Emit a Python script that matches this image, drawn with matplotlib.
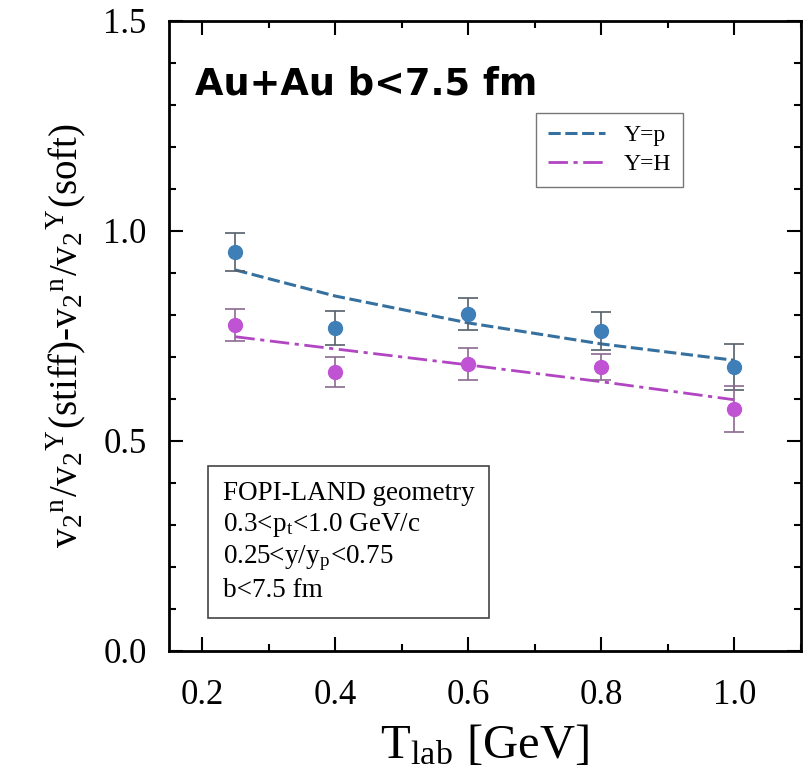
"""Elliptic-flow ratio difference (stiff minus soft) against beam energy."""

import matplotlib

matplotlib.use("Agg")
import matplotlib.pyplot as plt
from matplotlib.ticker import MultipleLocator

plt.rcParams["font.family"] = ["Liberation Serif", "DejaVu Serif"]
plt.rcParams["mathtext.fontset"] = "stix"

# data
t_lab = [0.25, 0.4, 0.6, 0.8, 1.0]

proton_vals = [0.950, 0.769, 0.802, 0.762, 0.676]
proton_errs = [0.045, 0.040, 0.038, 0.045, 0.055]
proton_fit = [0.907, 0.845, 0.781, 0.731, 0.692]

hydrogen_vals = [0.776, 0.664, 0.683, 0.676, 0.576]
hydrogen_errs = [0.038, 0.035, 0.039, 0.030, 0.055]
hydrogen_fit = [0.748, 0.719, 0.681, 0.641, 0.598]

series_labels = ["Y=p", "Y=H"]
info_lines = [
    "FOPI-LAND geometry",
    r"0.3<p$_\mathregular{t}$<1.0 GeV/c",
    r"0.25<y/y$_\mathregular{p}$<0.75",
    "b<7.5 fm",
]

BLUE = "#3f7fb8"
MAGENTA = "#c053d3"

fig = plt.figure(figsize=(8.08, 7.74), dpi=100)
ax = fig.add_axes([0.209, 0.159, 0.782, 0.814])

ax.plot(t_lab, proton_fit, ls=(0, (4, 1.5)), color="#35709f", lw=2.2, label=series_labels[0])
ax.plot(t_lab, hydrogen_fit, ls=(0, (7, 2, 1.5, 2)), color="#b145c2", lw=2.0, label=series_labels[1])

ax.errorbar(t_lab, proton_vals, yerr=proton_errs, fmt="o", ms=10, color=BLUE,
            ecolor="#555f6a", elinewidth=1.2, capsize=7, capthick=1.2, zorder=3)
ax.errorbar(t_lab, hydrogen_vals, yerr=hydrogen_errs, fmt="o", ms=10, color=MAGENTA,
            ecolor="#8a6a90", elinewidth=1.2, capsize=7, capthick=1.2, zorder=3)

ax.set_xlim(0.15, 1.1)
ax.set_ylim(0.0, 1.5)
ax.xaxis.set_major_locator(MultipleLocator(0.2))
ax.xaxis.set_minor_locator(MultipleLocator(0.1))
ax.yaxis.set_major_locator(MultipleLocator(0.5))
ax.yaxis.set_minor_locator(MultipleLocator(0.1))
ax.tick_params(which="both", direction="in", top=True, right=True, width=1.5)
ax.tick_params(which="major", length=10, labelsize=25)
ax.tick_params(axis="y", which="major", pad=16)
ax.tick_params(axis="x", which="major", pad=20)
ax.tick_params(which="minor", length=5)
for spine in ax.spines.values():
    spine.set_linewidth(2)

ax.set_xlabel(r"T$_\mathregular{lab}$ [GeV]", fontsize=35, labelpad=8)
ax.set_ylabel(r"v$_\mathregular{2}$$^\mathregular{n}$/v$_\mathregular{2}$$^\mathregular{Y}$(stiff)-"
              r"v$_\mathregular{2}$$^\mathregular{n}$/v$_\mathregular{2}$$^\mathregular{Y}$(soft)",
              fontsize=28, labelpad=11)

ax.legend(loc="upper right", bbox_to_anchor=(0.813, 0.854), borderaxespad=0, fontsize=17,
          frameon=True, fancybox=False, edgecolor="#555555", handlelength=2.4,
          borderpad=0.5, labelspacing=0.3)

ax.text(0.085, 0.27, "\n".join(info_lines), transform=ax.transAxes, fontsize=19.5,
        va="top", ha="left", linespacing=1.25,
        bbox=dict(boxstyle="square,pad=0.55", fc="white", ec="#444444", lw=1.2))

ax.text(0.042, 0.9, "Au+Au b<7.5 fm", transform=ax.transAxes, fontsize=26.5,
        fontweight="bold", family="DejaVu Sans", va="center", ha="left")

fig.savefig("out.png", dpi=100)
